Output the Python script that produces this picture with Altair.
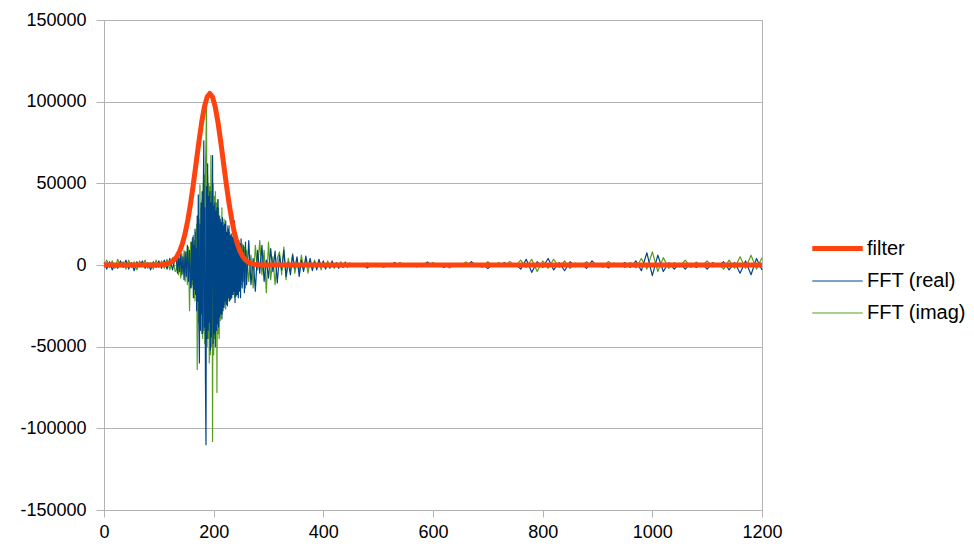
import altair as alt
import pandas as pd

series_names = ["filter", "FFT (real)", "FFT (imag)"]
series_colors = ["#ff420e", "#004586", "#579d1c"]
series_widths = [5, 1.2, 1.2]

y_ticks = [-150000, -100000, -50000, 0, 50000, 100000, 150000]
x_ticks = [0, 200, 400, 600, 800, 1000, 1200]

# filter curve
filter_x = [0, 50, 98, 103, 108, 113, 118, 123, 128, 133, 138, 143, 148, 153, 158,
            163, 168, 173, 178, 183, 188, 193, 198, 203, 208, 213, 218, 223, 228,
            233, 238, 243, 248, 253, 258, 263, 268, 273, 278, 283, 288, 350, 1200]
filter_val = [0, 0, 57, 123, 255, 510, 970, 1770, 3110, 5230, 8450, 13080, 19440,
              27690, 37850, 49610, 62380, 75250, 87060, 96610, 102840, 105000, 102840,
              96610, 87060, 75250, 62380, 49610, 37850, 27690, 19440, 13080, 8450,
              5230, 3110, 1770, 970, 510, 255, 123, 57, 0, 0]

# FFT sample positions
fft_x = (list(range(0, 131, 5)) + list(range(132, 159, 2)) + list(range(159, 251))
         + list(range(252, 261, 2)) + list(range(264, 449, 4))
         + list(range(460, 1201, 10)))

fft_real = [
    # 0-130
    1500, -2500, 2000, -3000, 1000, -2000, 2500, -1500, 3000, -2500,
    1500, -3500, 2000, -1000, 2500, -2000, 1500, -3000, 2000, -1500,
    2500, -2000, 3000, -2500, 4000, -3000, 5000,
    # 132-158
    4000, -5000, 6000, -4000, 7000, -6000, 5000, -9000, 8000, -7000,
    12000, -10000, 9000, -14000,
    # 159-250
    -12000, 14000, -9000, 17000, -20000, 12000, -15000, 22000, -18000, 10000,
    -28000, 30000, -22000, 43000, -35000, -60000, 25000, -40000, 38000, -30000,
    45000, -42000, 40000, 76000, -38000, 35000, -70000, -110000, 48000, -45000,
    62000, -40000, 42000, -35000, 45000, -52000, 38000, -44000, 40000, 67000,
    -48000, 36000, -42000, 38000, -50000, 33000, -40000, 35000, -36000, 40000,
    -38000, 30000, -32000, 28000, -30000, 26000, -33000, 29000, -28000, 24000,
    -26000, 25000, -22000, 27000, -24000, 20000, -25000, 22000, -20000, 24000,
    -22000, 18000, -21000, 19000, -20000, 17000, -18000, 20000, -16000, 27000,
    -23000, 15000, -19000, 17000, -18000, 14000, -20000, 15000, -16000, 13000,
    -20000, 16000,
    # 252-260
    -14000, 12000, -17000, 14000, -12000,
    # 264-448
    15000, -12000, 4000, -16000, 9000, -5000, 12000, -10000, 3000, -8000,
    10000, -4000, 8500, -11000, 6000, -3000, 9000, -7000, 2000, -6000,
    6000, -2000, 5000, -7000, 3000, -4000, 5500, -1500, 4000, -3500,
    2000, -3000, 3500, -1000, 2500, -2500, 1000, -2000, 2500, -1500,
    1500, -2000, 800, -1500, 1800, -1000, 1200,
    # 460-1200
    -800, 600, -1800, 700, -500, 900, -600, 1500, -700, 500,
    -900, 600, -500, 1800, -700, 400, -1500, 800, -600, 500,
    -700, 2000, -800, 600, -2200, 900, -700, 1600, -900, 700,
    -2500, 3500, -4500, 2000, -1500, 4000, -3000, 1500, -3500, 2000,
    -1000, 800, -2000, 2500, -900, 700, -1800, 1200, -800, 1500,
    -1500, 2500, -3500, 7500, -6500, 6000, -4000, 1500, -2500, 1000,
    -2500, 1000, -1500, 800, -2500, 1500, -800, 2000, -3000, 1500,
    -5000, 2500, -6000, 4000, -3000,
]

fft_imag = [
    # 0-130
    -1000, 3000, -1500, 2500, -2000, 3500, -1000, 2000, -2500, 3000,
    -1500, 2000, -3000, 2500, -1000, 3000, -2000, 1500, -2500, 3000,
    -1500, 2500, -2000, 3500, -3000, 4500, -4000,
    # 132-158
    -3000, 5000, -6000, 4000, -8000, 7000, -5000, 9000, -10000, 8000,
    -12000, 11000, -28000, 14000,
    # 159-250
    10000, -14000, 16000, -12000, 18000, -20000, 15000, -22000, 20000, -18000,
    25000, -64000, 30000, -35000, 28000, -40000, 49000, -38000, 35000, -42000,
    40000, -45000, 50000, -40000, 55000, -48000, 60000, 75000, 98000, -50000,
    55000, -45000, 50000, -60000, 48000, -55000, 67000, -50000, 45000, -108000,
    50000, -55000, 42000, -45000, 45000, -40000, 38000, -78000, 40000, -42000,
    35000, -45000, 30000, -34000, 24000, -28000, 35000, -30000, 26000, -25000,
    28000, -24000, 22000, -27000, 20000, -22000, 24000, -20000, 18000, -22000,
    20000, -18000, 16000, -20000, 18000, -16000, 15000, -18000, 14000, -20000,
    14000, -16000, 12000, -18000, 13000, -14000, 10000, -12000, 11000, -13000,
    10000, -12000,
    # 252-260
    13000, -10000, 11000, -14000, 9000,
    # 264-448
    -10000, 6000, -14000, 12000, -3000, 15000, -6000, 9000, -17000, 14000,
    -9000, 5000, -12000, 4000, 8000, -6000, 11000, -9000, 4000, -3000,
    7000, -5000, 2000, -4000, 6000, -3000, 3500, -5000, 2000, -2500,
    3000, -1500, 2500, -3000, 1500, -2000, 2500, -1000, 1500, -2000,
    1000, -1500, 2000, -800, 1200, -1500, 800,
    # 460-1200
    700, -600, 1200, -500, 800, -1500, 600, -700, 1600, -500,
    800, -1200, 500, -700, 1500, -600, 900, -1800, 500, -700,
    1800, -600, 900, -1500, 2000, -700, 1500, -900, 2200, -800,
    3000, -1500, 3500, -4000, 2500, -2000, 3500, -1500, 2500, -2000,
    1200, -700, 2000, -1000, 800, -1500, 2200, -800, 1000, -1600,
    1500, -1800, 4000, -2500, 8000, -4000, 4500, -2000, 1500, -1200,
    3000, -1500, 1800, -900, 2500, -1200, 900, -2500, 3000, -2000,
    5000, -2000, 6000, -2500, 4500,
]

df_filter = pd.DataFrame({"x": filter_x, "value": filter_val, "series": "filter"})
df_real = pd.DataFrame({"x": fft_x, "value": fft_real, "series": "FFT (real)"})
df_imag = pd.DataFrame({"x": fft_x, "value": fft_imag, "series": "FFT (imag)"})

legend = alt.Legend(
    title=None, orient="none", legendX=710, legendY=205,
    symbolType="M-1.2,0H1.2", symbolSize=1764, labelFont="Liberation Sans",
    labelFontSize=20, labelColor="#000000", labelOffset=6, rowPadding=0,
)

xenc = alt.X("x:Q", scale=alt.Scale(domain=[0, 1200], nice=False, zero=False),
             axis=alt.Axis(values=x_ticks, grid=False, title=None, tickSize=7,
                           labelPadding=6, labelFlush=False,
                           labelExpr="'' + datum.value"))
yenc = alt.Y("value:Q", scale=alt.Scale(domain=[-150000, 150000], nice=False),
             axis=alt.Axis(values=y_ticks, grid=True, title=None, tickSize=8,
                           labelPadding=10, labelFlush=False,
                           labelExpr="'' + datum.value"))
cenc = alt.Color("series:N", scale=alt.Scale(domain=series_names, range=series_colors),
                 legend=legend)
wenc = alt.StrokeWidth("series:N",
                       scale=alt.Scale(type="ordinal", domain=series_names,
                                       range=series_widths),
                       legend=legend)


def layer(df):
    return alt.Chart(df).mark_line(strokeJoin="round").encode(
        x=xenc, y=yenc, color=cenc, strokeWidth=wenc)


chart = alt.layer(layer(df_imag), layer(df_real), layer(df_filter)).properties(
    width=658, height=490, autosize="none",
    padding={"left": 96, "top": 12, "right": 204, "bottom": 30},
).configure_axis(
    labelFont="Liberation Sans", labelFontSize=18, labelColor="#000000",
    domainColor="#b3b3b3", tickColor="#b3b3b3", gridColor="#b3b3b3",
).configure_view(stroke="#b3b3b3")

chart.save("out.html", embed_options={"renderer": "svg", "actions": False})
